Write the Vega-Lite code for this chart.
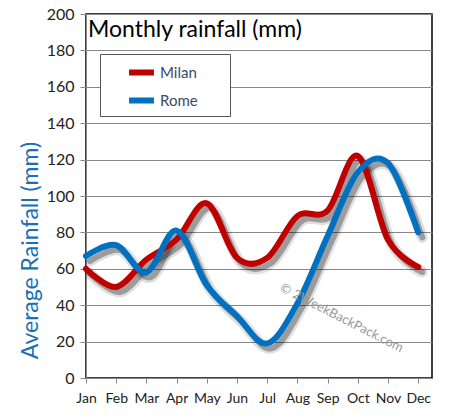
{
  "$schema": "https://vega.github.io/schema/vega-lite/v6.json",
  "autosize": "none",
  "padding": {"left": 86, "top": 14, "right": 20, "bottom": 40},
  "width": 346,
  "height": 364,
  "background": "white",
  "title": {
    "text": "Monthly rainfall (mm)",
    "anchor": "start",
    "orient": "top",
    "frame": "group",
    "font": "Lato",
    "fontSize": 23,
    "fontWeight": "normal",
    "color": "#000000",
    "baseline": "top",
    "offset": -36,
    "dx": 2
  },
  "config": {
    "view": {"stroke": "#000000", "strokeWidth": 1.5},
    "font": "Lato"
  },
  "data": {
    "values": [
      {"month": "Jan", "city": "Milan", "rain": 60},
      {"month": "Feb", "city": "Milan", "rain": 50},
      {"month": "Mar", "city": "Milan", "rain": 65},
      {"month": "Apr", "city": "Milan", "rain": 76},
      {"month": "May", "city": "Milan", "rain": 96},
      {"month": "Jun", "city": "Milan", "rain": 66},
      {"month": "Jul", "city": "Milan", "rain": 66},
      {"month": "Aug", "city": "Milan", "rain": 89},
      {"month": "Sep", "city": "Milan", "rain": 92},
      {"month": "Oct", "city": "Milan", "rain": 122},
      {"month": "Nov", "city": "Milan", "rain": 76},
      {"month": "Dec", "city": "Milan", "rain": 61},
      {"month": "Jan", "city": "Rome", "rain": 67},
      {"month": "Feb", "city": "Rome", "rain": 73},
      {"month": "Mar", "city": "Rome", "rain": 58},
      {"month": "Apr", "city": "Rome", "rain": 81},
      {"month": "May", "city": "Rome", "rain": 51},
      {"month": "Jun", "city": "Rome", "rain": 34},
      {"month": "Jul", "city": "Rome", "rain": 19},
      {"month": "Aug", "city": "Rome", "rain": 41},
      {"month": "Sep", "city": "Rome", "rain": 78},
      {"month": "Oct", "city": "Rome", "rain": 113},
      {"month": "Nov", "city": "Rome", "rain": 118},
      {"month": "Dec", "city": "Rome", "rain": 80}
    ]
  },
  "encoding": {
    "x": {
      "field": "month",
      "type": "ordinal",
      "sort": null,
      "scale": {"type": "point", "padding": 0.228, "align": 0},
      "axis": {
        "title": null,
        "labelAngle": 0,
        "labelFont": "Lato",
        "labelFontSize": 14,
        "labelColor": "#222222",
        "labelPadding": 8,
        "domainColor": "#888888",
        "tickColor": "#888888",
        "tickSize": 5,
        "grid": false
      }
    },
    "y": {
      "field": "rain",
      "type": "quantitative",
      "scale": {"domain": [0, 200], "nice": false},
      "axis": {
        "values": [0, 20, 40, 60, 80, 100, 120, 140, 160, 180, 200],
        "title": "Average Rainfall (mm)",
        "titleFont": "Lato",
        "titleFontSize": 23,
        "titleFontWeight": "normal",
        "titleColor": "#1a6fb8",
        "titleAngle": 270,
        "titleAlign": "center",
        "titleBaseline": "middle",
        "titleX": -56,
        "titleY": 236,
        "labelFont": "Lato",
        "labelFontSize": 16,
        "labelColor": "#222222",
        "labelPadding": 6,
        "domainColor": "#888888",
        "tickColor": "#888888",
        "tickSize": 6,
        "gridColor": "#888888",
        "gridOpacity": 1
      }
    }
  },
  "layer": [
    {
      "mark": {"type": "line", "interpolate": "cardinal", "stroke": "#000000", "strokeWidth": 11, "opacity": 0.12, "xOffset": 4, "yOffset": 5, "strokeCap": "round"},
      "encoding": {"detail": {"field": "city"}}
    },
    {
      "mark": {"type": "line", "interpolate": "cardinal", "stroke": "#000000", "strokeWidth": 6, "opacity": 0.3, "xOffset": 4, "yOffset": 5, "strokeCap": "round"},
      "encoding": {"detail": {"field": "city"}}
    },
    {
      "mark": {"type": "line", "interpolate": "cardinal", "strokeWidth": 6, "strokeCap": "round"},
      "encoding": {
        "color": {
          "field": "city",
          "type": "nominal",
          "scale": {"domain": ["Milan", "Rome"], "range": ["#c00000", "#0070c0"]},
          "legend": {
            "title": "\u00a0",
            "titleOrient": "right",
            "titleAngle": 0,
            "titleFontSize": 15,
            "titlePadding": 29,
            "orient": "none",
            "legendX": 14,
            "legendY": 40,
            "symbolType": "stroke",
            "symbolSize": 620,
            "symbolStrokeWidth": 6,
            "symbolOffset": 23,
            "labelFont": "Lato",
            "labelFontSize": 15,
            "labelColor": "#3a4a66",
            "labelOffset": 3,
            "rowPadding": -2,
            "padding": 3,
            "strokeColor": "#555555",
            "fillColor": "white"
          }
        },
        "order": {"field": "city"}
      }
    },
    {
      "data": {"values": [{"month": "Sep", "rain": 33, "note": "© 2WeekBackPack.com"}]},
      "mark": {"type": "text", "angle": 27, "fontSize": 13, "color": "#999999", "font": "Lato", "align": "center", "baseline": "middle", "xOffset": 14},
      "encoding": {"text": {"field": "note"}}
    }
  ]
}
